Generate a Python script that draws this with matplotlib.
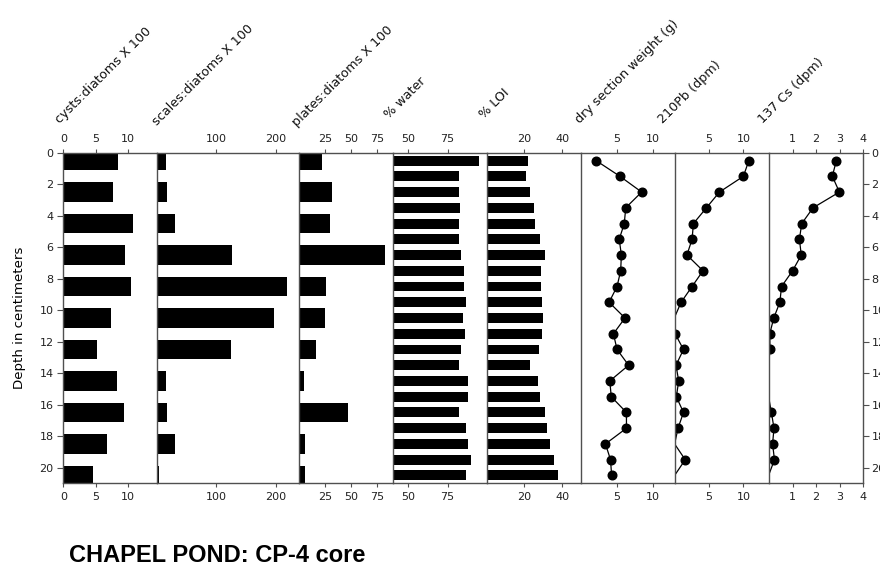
import numpy as np
import matplotlib.pyplot as plt

# section tops (cm); values plotted at section mid-depth
depth_2cm = [0, 2, 4, 6, 8, 10, 12, 14, 16, 18, 20]
depth_1cm = list(range(21))

# ratios x 100 (2 cm sections)
cysts = [8.5, 7.7, 10.7, 9.5, 10.5, 7.3, 5.2, 8.3, 9.4, 6.8, 4.5]
scales = [14, 16, 30, 127, 220, 198, 124, 15, 16, 30, 2]
plates = [22, 32, 30, 82, 26, 25, 17, 5, 47, 6, 6]

# 1 cm sections
water = [95, 82, 82.4, 83, 82.6, 82.6, 83.6, 85.5, 85.3, 86.8, 85,
         86.1, 83.4, 82.1, 88, 88, 82, 86.8, 88.2, 89.9, 86.5]
loi = [22.1, 21, 23.2, 25, 25.7, 28.3, 30.7, 28.9, 28.9, 29.6, 29.8,
       29.4, 27.8, 22.8, 27.4, 28.2, 31.2, 31.9, 33.7, 35.7, 37.8]
dry_wt = [2.1, 5.4, 8.4, 6.2, 6.0, 5.3, 5.6, 5.5, 5.0, 3.9, 6.1,
          4.5, 5.0, 6.6, 4.0, 4.2, 6.3, 6.3, 3.4, 4.1, 4.25]
# negative = below detection (no symbol drawn)
pb210 = [10.8, 10.0, 6.5, 4.6, 2.7, 2.5, 1.75, 4.1, 2.5, 0.9, -0.1,
         0.02, 1.25, 0.15, 0.55, 0.2, 1.25, 0.45, -0.05, 1.5, -0.05]
cs137 = [2.86, 2.69, 2.99, 1.87, 1.39, 1.29, 1.37, 1.0, 0.53, 0.46, 0.2,
         0.03, 0.04, -0.02, -0.02, -0.02, 0.1, 0.21, 0.15, 0.23, -0.02]

depth_ticks = list(range(0, 21, 2))

# (label, data, kind, xlim, xticks, width in units, label anchor px)
panels = [
    ("cysts:diatoms X 100", cysts, "bar2", (0, 14.5), [0, 5, 10], 1.0, (60, 124)),
    ("scales:diatoms X 100", scales, "bar2", (0, 239), [100, 200], 1.5, (157, 126)),
    ("plates:diatoms X 100", plates, "bar2", (0, 89.5), [25, 50, 75], 1.0, (297, 127)),
    ("% water", water, "bar1", (40, 100), [50, 75], 1.0, (389, 119)),
    ("% LOI", loi, "bar1", (0, 50), [20, 40], 1.0, (484, 119)),
    ("dry section weight (g)", dry_wt, "line", (0, 13), [5, 10], 1.0, (580, 124)),
    ("210Pb (dpm)", pb210, "line", (0, 13.75), [5, 10], 1.0, (663, 124)),
    ("137 Cs (dpm)", cs137, "line", (0, 4), [1, 2, 3, 4], 1.0, (763, 124)),
]

W, H = 880, 570
fig = plt.figure(figsize=(W / 100, H / 100), dpi=100)
plt.rcParams['font.family'] = 'DejaVu Sans'

x0 = 63.3
unit = 94.1
top_px, bot_px = 152.7, 483.3
spine_col = "#505050"

x = x0
for i, (label, vals, kind, xlim, xticks, wu, lpos) in enumerate(panels):
    ax = fig.add_axes([x / W, 1 - bot_px / H, wu * unit / W, (bot_px - top_px) / H])
    x += wu * unit

    if kind == "bar2":
        ax.barh([d + 0.5 for d in depth_2cm], vals, height=1.25, left=0,
                color="black", edgecolor="none")
    elif kind == "bar1":
        ax.barh([d + 0.5 for d in depth_1cm], np.array(vals) - xlim[0], height=0.63,
                left=xlim[0], color="black", edgecolor="none")
    else:
        yy = [d + 0.5 for d in depth_1cm]
        ax.plot(vals, yy, color="black", lw=0.9)
        v = np.array(vals, dtype=float)
        v[v < 0] = np.nan
        ax.plot(v, yy, "o", color="black", ms=6.2)

    ax.set_xlim(*xlim)
    ax.set_ylim(21, 0)
    ax.set_xticks(xticks)
    ax.set_xticklabels([str(t) for t in xticks])
    ax.tick_params(axis="x", top=True, bottom=True, labeltop=True, labelbottom=True,
                   direction="out", length=3, width=0.8, labelsize=8, pad=3,
                   color=spine_col, labelcolor="#222222")

    for s in ax.spines.values():
        s.set_color(spine_col)
        s.set_linewidth(1.0)
    ax.spines["right"].set_visible(i == len(panels) - 1)

    if i == 0:
        ax.set_yticks(depth_ticks)
        ax.tick_params(axis="y", direction="out", length=4, width=0.8, labelsize=8,
                       pad=3, color=spine_col, labelcolor="#222222")
    elif i == len(panels) - 1:
        ax.set_yticks(depth_ticks)
        ax.yaxis.tick_right()
        ax.tick_params(axis="y", direction="out", length=4, width=0.8, labelsize=8,
                       pad=2, color=spine_col, labelcolor="#222222")
    else:
        ax.set_yticks([])

    fig.text(lpos[0] / W, 1 - lpos[1] / H, label, rotation=45, rotation_mode="anchor",
             ha="left", va="baseline", fontsize=9.2, color="#111111")

fig.text(19 / W, 1 - 318 / H, "Depth in centimeters", rotation=90,
         ha="center", va="center", fontsize=9.6)

fig.text(69 / W, 1 - 562 / H, "CHAPEL POND: CP-4 core", fontsize=17,
         fontweight="bold", family="Liberation Sans", ha="left", va="baseline")

fig.savefig("out.png", dpi=100)
